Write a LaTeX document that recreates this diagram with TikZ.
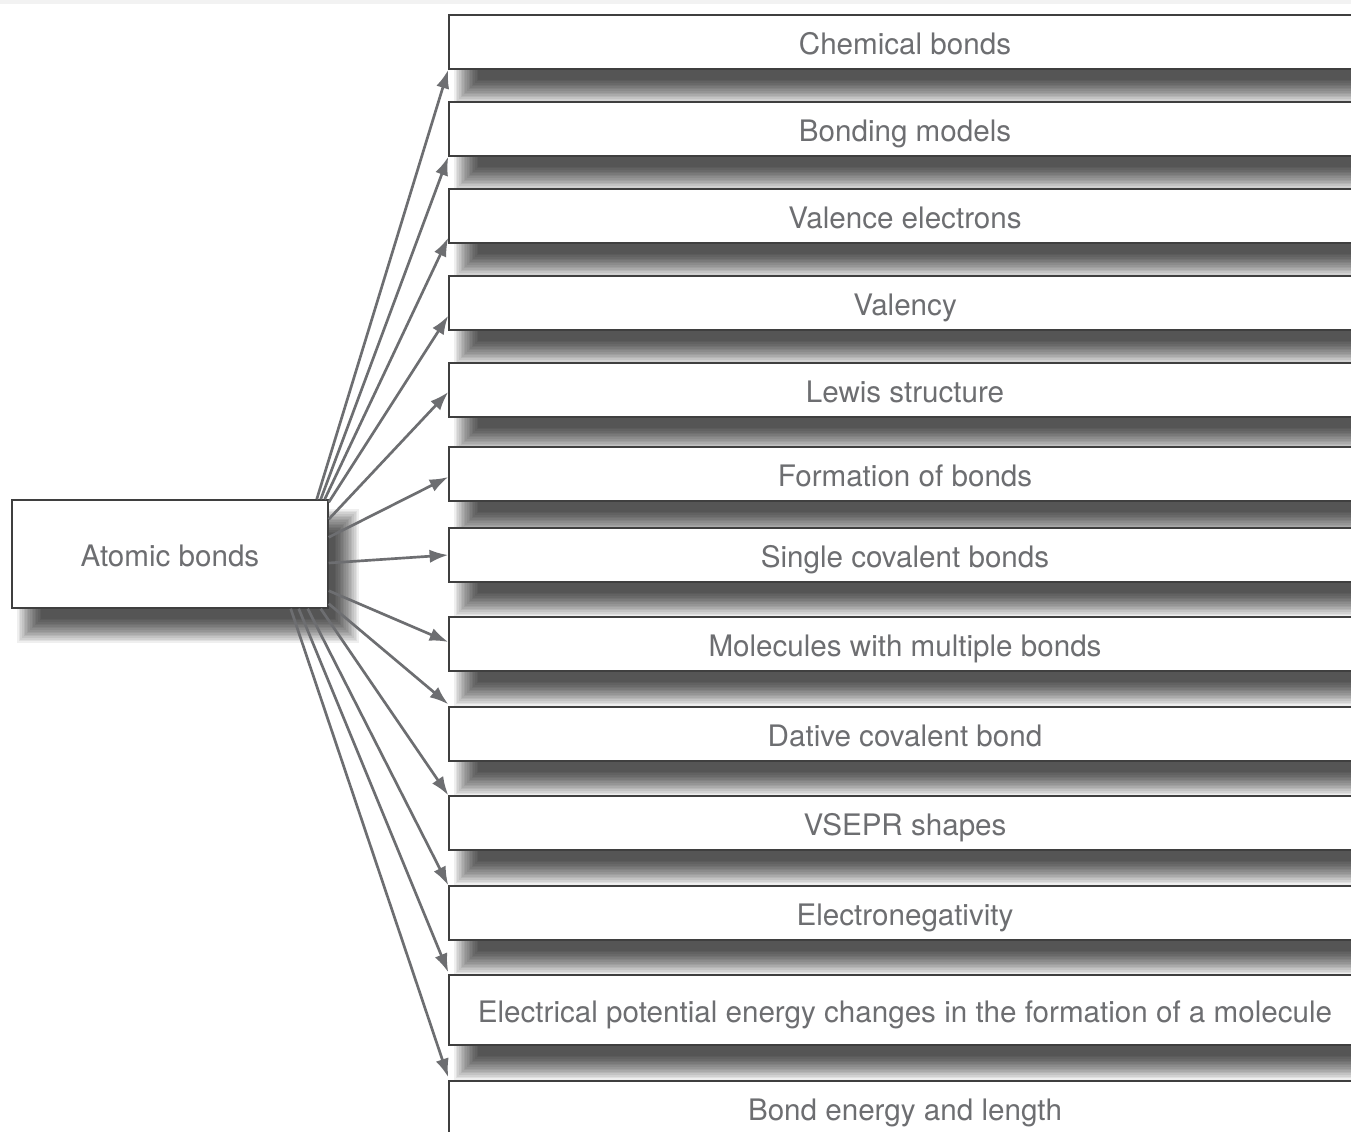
\documentclass[tikz,border=0pt]{standalone}
\usepackage{fontspec}
\setmainfont{TeX Gyre Heros}
\usetikzlibrary{arrows.meta}
\definecolor{txt}{HTML}{6D6E71}
\definecolor{edgecol}{HTML}{6D6E71}
\definecolor{bord}{HTML}{3F3F3F}
\pgfdeclarelayer{bglayer}
\pgfdeclarelayer{shadowlayer}
\pgfsetlayers{bglayer,shadowlayer,main}
\begin{document}
\begin{tikzpicture}[x=0.75pt,y=-0.75pt,
  basebox/.style={draw=bord,line width=1.1pt,fill=white,inner sep=0pt,text=txt,
    font=\fontsize{22.2}{26}\selectfont,text height=21.6pt,text depth=3pt},
  rbox/.style={basebox,minimum width=684pt,minimum height=40.5pt},
  shadowpart/.style={fill=black,opacity=0.0635},
  arr/.style={draw=edgecol,line width=2pt,-{Latex[length=14pt,width=10pt]}}]
\useasboundingbox (0,0) rectangle (1351,1131);
\clip (0,0) rectangle (1351,1131);
\begin{pgfonlayer}{bglayer}
\fill[white] (0,0) rectangle (1351,1131);
\fill[black!5] (0,0) rectangle (1351,4);
\end{pgfonlayer}

\node[basebox,minimum width=237pt,minimum height=81pt] (a) at (170,554) {Atomic bonds};

\node[rbox] (b1) at (905,42) {Chemical bonds};
\node[rbox] (b2) at (905,129) {Bonding models};
\node[rbox] (b3) at (905,216) {Valence electrons};
\node[rbox] (b4) at (905,303) {Valency};
\node[rbox] (b5) at (905,390) {Lewis structure};
\node[rbox] (b6) at (905,474) {Formation of bonds};
\node[rbox] (b7) at (905,555) {Single covalent bonds};
\node[rbox] (b8) at (905,644) {Molecules with multiple bonds};
\node[rbox] (b9) at (905,734) {Dative covalent bond};
\node[rbox] (b10) at (905,823) {VSEPR shapes};
\node[rbox] (b11) at (905,913) {Electronegativity};
\node[rbox,minimum height=52.5pt] (b12) at (905,1010) {Electrical potential energy changes in the formation of a molecule};
\node[rbox] (b13) at (905,1108) {Bond energy and length};

\begin{pgfonlayer}{shadowlayer}
\foreach \n in {a,b1,b2,b3,b4,b5,b6,b7,b8,b9,b10,b11,b12,b13}{
  \foreach \k in {0,...,15}{
    \pgfmathsetmacro\e{9-\k*1.2}
    \pgfmathsetmacro\xa{13.5-\e}
    \pgfmathsetmacro\ya{-16.5+\e}
    \pgfmathsetmacro\xb{13.5+\e}
    \pgfmathsetmacro\yb{-16.5-\e}
    \fill[shadowpart] ([xshift=\xa pt,yshift=\ya pt]\n.north west) rectangle ([xshift=\xb pt,yshift=\yb pt]\n.south east);
  }
}
\end{pgfonlayer}

\draw[arr] ([xshift=-9pt]a.north east) -- (b1.south west);
\draw[arr] ([xshift=-6pt]a.north east) -- (b2.south west);
\draw[arr] ([xshift=-3pt]a.north east) -- ([yshift=4.5pt]b3.south west);
\draw[arr] ([yshift=-2.25pt]a.north east) -- ([yshift=11.25pt]b4.south west);
\draw[arr] ([yshift=-15pt]a.north east) -- ([yshift=-1.5pt]b5.west);
\draw[arr] ([yshift=-28.5pt]a.north east) -- ([yshift=-2.25pt]b6.west);
\draw[arr] ([yshift=-6.75pt]a.east) -- (b7.west);
\draw[arr] ([yshift=13.5pt]a.south east) -- ([yshift=1.5pt]b8.west);
\draw[arr] ([yshift=3.75pt]a.south east) -- ([yshift=1.5pt]b9.north west);
\draw[arr] ([xshift=-6pt]a.south east) -- (b10.north west);
\draw[arr] ([xshift=-15.75pt]a.south east) -- (b11.north west);
\draw[arr] ([xshift=-22.5pt]a.south east) -- ([yshift=1.5pt]b12.north west);
\draw[arr] ([xshift=-28.5pt]a.south east) -- ([yshift=2.25pt]b13.north west);
\end{tikzpicture}
\end{document}
